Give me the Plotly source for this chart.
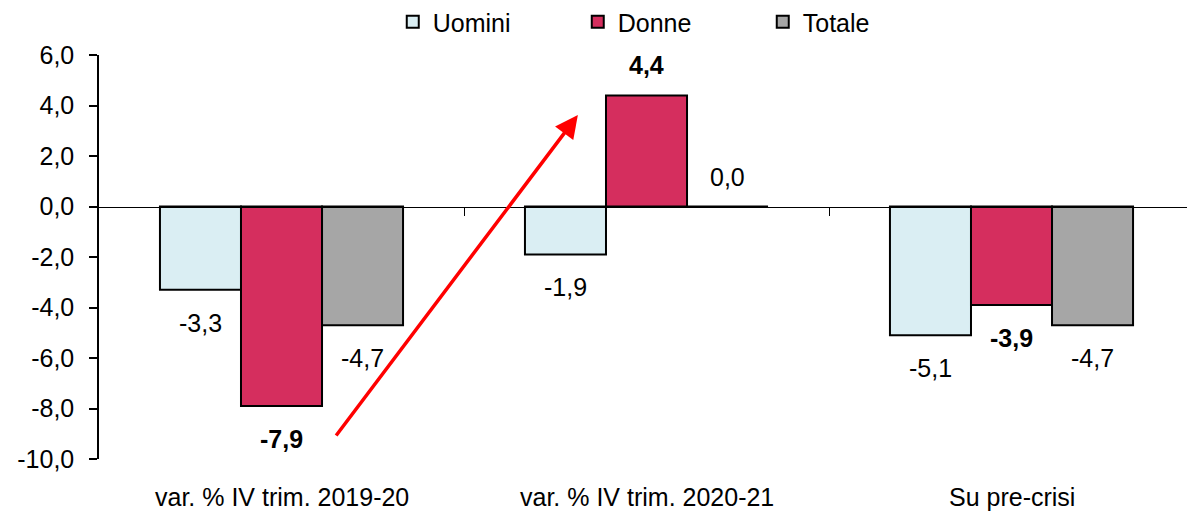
import plotly.graph_objects as go

categories = ["var. % IV trim. 2019-20", "var. % IV trim. 2020-21", "Su pre-crisi"]
series_names = ["Uomini", "Donne", "Totale"]
uomini = [-3.3, -1.9, -5.1]
donne = [-7.9, 4.4, -3.9]
totale = [-4.7, 0.0, -4.7]
y_ticks = [-10, -8, -6, -4, -2, 0, 2, 4, 6]
y_ticktext = [f"{v:.1f}".replace(".", ",") for v in y_ticks]

colors = ["#DAEEF3", "#D52E5E", "#A6A6A6"]
bold = [False, True, False]
FONT = "Liberation Sans, Arial, sans-serif"
FS = 25

fig = go.Figure()
all_series = [uomini, donne, totale]
for name, vals, col in zip(series_names, all_series, colors):
    fig.add_trace(go.Bar(
        x=list(range(len(categories))), y=vals, name=name,
        marker=dict(color=col, line=dict(color="black", width=2)),
    ))

bargap = 0.334
bw = (1 - bargap) / 3
for j, (vals, b) in enumerate(zip(all_series, bold)):
    for i, v in enumerate(vals):
        txt = f"{v:.1f}".replace(".", ",")
        if b:
            txt = f"<b>{txt}</b>"
        shift = 33 if v < 0 else 30
        fig.add_annotation(
            x=i + (j - 1) * bw, y=v, text=txt, showarrow=False,
            yanchor="middle", xanchor="center",
            yshift=-shift if v < 0 else shift,
            font=dict(family=FONT, size=FS, color="black"),
        )

for i, c in enumerate(categories):
    fig.add_annotation(
        x=i, y=0, yref="paper", text=c, showarrow=False,
        yanchor="top", xanchor="center", yshift=-22,
        font=dict(family=FONT, size=FS, color="black"),
    )

# red arrow
fig.add_annotation(
    x=0.812, y=3.62, ax=0.1466, ay=-9.13, xref="x", yref="y", axref="x", ayref="y",
    showarrow=True, arrowhead=2, arrowsize=1.3, arrowwidth=3.5, arrowcolor="#FF0000", text="",
)

fig.update_layout(
    width=1187, height=514,
    margin=dict(l=99, r=0, t=55, b=55, autoexpand=False),
    paper_bgcolor="white", plot_bgcolor="white",
    barmode="group", bargap=bargap, bargroupgap=0,
    font=dict(family=FONT, size=FS, color="black"),
    legend=dict(
        orientation="h", x=0.27, xanchor="left", xref="paper",
        y=1 - 22 / 514, yanchor="middle", yref="container",
        entrywidth=140, entrywidthmode="pixels",
        font=dict(family=FONT, size=FS, color="black"),
        bgcolor="rgba(0,0,0,0)",
    ),
    xaxis=dict(
        type="linear", range=[-0.5, -0.5 + 1088 / 365], showgrid=False, zeroline=False,
        showticklabels=False, showline=True, linecolor="black", linewidth=1,
        tickvals=[0.5, 1.5], ticks="outside", ticklen=8, tickcolor="black", tickwidth=1,
        anchor="free", position=0.625, automargin=False,
    ),
    yaxis=dict(
        range=[-10, 6], tickvals=y_ticks, ticktext=y_ticktext, showgrid=False, zeroline=False,
        showline=True, linecolor="black", linewidth=1.5, ticks="outside", ticklen=8,
        tickcolor="black", tickwidth=1.5, ticklabelstandoff=10, automargin=False,
        tickfont=dict(family=FONT, size=FS, color="black"),
    ),
    showlegend=True,
)

fig.write_html("out.html", config={"displayModeBar": False},
               post_script="document.body.style.margin='0px';")
